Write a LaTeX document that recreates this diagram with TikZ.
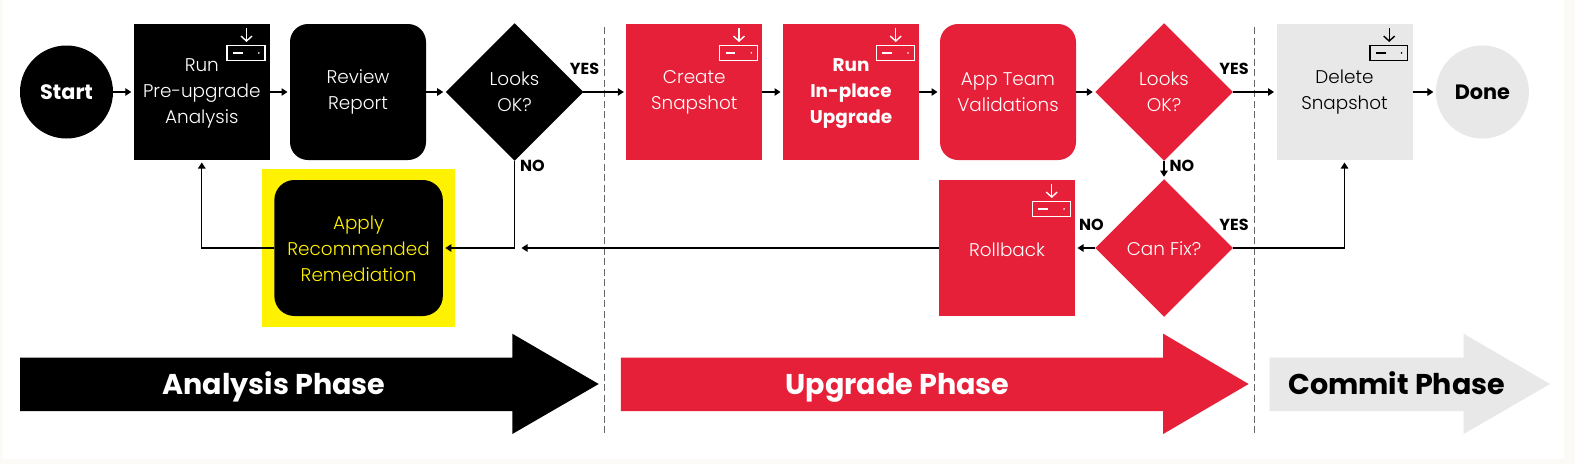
\documentclass[tikz,border=0pt]{standalone}
\usepackage{fontspec}
\setmainfont{Poppins}[UprightFont=* Light,BoldFont=* Bold]
\usetikzlibrary{shapes.geometric,arrows.meta}

\definecolor{flowred}{HTML}{E52038}
\definecolor{flowgrey}{HTML}{E8E8E8}
\definecolor{pagetint}{HTML}{FBFAF6}

\tikzset{
	x=1pt,y=-1pt,
	>={Triangle[length=6pt,width=7.5pt]},
	every node/.style={inner sep=0pt,outer sep=0pt,align=center,font=\fontsize{18.4}{26}\selectfont},
	box/.style={rectangle,minimum width=136pt,minimum height=136pt},
	softbox/.style={box,rounded corners=18pt},
	round/.style={circle,minimum size=93pt,font=\fontsize{20.8}{26}\selectfont\bfseries},
	choice/.style={diamond,minimum width=137.5pt,minimum height=137.5pt},
	answer/.style={font=\fontsize{16}{18}\selectfont\bfseries},
	phase/.style={anchor=base,font=\fontsize{28.6}{32}\selectfont\bfseries},
	flow/.style={line width=1.1pt,->,shorten >=2.5pt},
	divider/.style={line width=0.9pt,black!60,dash pattern=on 7pt off 3.5pt},
	dlicon/.pic={
		\draw[line width=1.4pt] (-42.7,21.6) rectangle (-4.8,36.2);
		\draw[line width=1.4pt] (-36.6,28.9) -- (-27,28.9);
		\fill (-11,28.9) circle (0.9pt);
		\draw[line width=1.4pt,-{Straight Barb[length=5pt,width=11pt]}] (-23.3,3.7) -- (-23.3,18);
	}
}

\begin{document}
\begin{tikzpicture}

\useasboundingbox (0,0) rectangle (1575,464);
\fill[pagetint] (0,0) rectangle (1575,464);
\fill[white] (3,0) rectangle (1564,459);

% Analysis
\node[round,fill=black,text=white] (start) at (66.5,92) {Start};
\node[box,fill=black,text=white,text height=68pt] (preupgrade) at (201.8,92) {Run\\Pre-upgrade\\Analysis};
\node[softbox,fill=black,text=white] (review) at (358,92) {Review\\Report};
\node[choice,fill=black,text=white] (looksa) at (514.5,92) {Looks\\OK?};
\node[rectangle,fill=yellow,minimum width=193.5pt,minimum height=158pt] (applyglow) at (358.6,248) {};
\node[box,rounded corners=20pt,minimum width=168.5pt,fill=black,text=yellow,text height=68pt] (apply) at (358.6,248) {Apply\\Recommended\\Remediation};

% Upgrade
\node[box,fill=flowred,text=white] (create) at (694.3,92) {Create\\Snapshot};
\node[box,fill=flowred,text=white,text height=68pt] (inplace) at (851,92) {\textbf{Run}\\\textbf{In-place}\\\textbf{Upgrade}};
\node[softbox,fill=flowred,text=white] (appteam) at (1008,92) {App Team\\Validations};
\node[choice,fill=flowred,text=white] (looksb) at (1164,92) {Looks\\OK?};
\node[choice,fill=flowred,text=white,text height=16pt] (canfix) at (1164,248) {Can Fix?};
\node[box,fill=flowred,text=white,text height=17pt] (rollback) at (1007,248) {Rollback};

% Commit
\node[box,fill=flowgrey] (delsnap) at (1344.5,92) {Delete\\Snapshot};
\node[round,fill=flowgrey] (done) at (1482.4,92) {Done};

% disk icons
\pic[white] at (preupgrade.north east) {dlicon};
\pic[white] at (create.north east) {dlicon};
\pic[white] at (inplace.north east) {dlicon};
\pic[white] at (rollback.north east) {dlicon};
\pic[black] at (delsnap.north east) {dlicon};

% phase borders
\draw[divider] (604.7,27) -- (604.7,434);
\draw[divider] (1254,27) -- (1254,434);

% connectors
\coordinate (rollbackend) at (519,248);
\draw[flow] (start) -- (preupgrade);
\draw[flow] (preupgrade) -- (review);
\draw[flow] (review) -- (looksa);
\draw[flow] (looksa) -- (create);
\draw[flow] (create) -- (inplace);
\draw[flow] (inplace) -- (appteam);
\draw[flow] (appteam) -- (looksb);
\draw[flow] (looksb) -- (delsnap);
\draw[flow] (delsnap) -- (done);
\draw[flow] (looksb) -- (canfix);
\draw[flow] (canfix) -- (rollback);
\draw[flow] (rollback) -- (rollbackend);
\draw[flow] (looksa.south) |- (apply.east);
\draw[flow] (apply.west) -| (preupgrade.south);
\draw[flow] (canfix.east) -| (delsnap.south);

% answers
\node[answer] (yesa) at (584.6,69) {YES};
\node[answer] (noa) at (532.5,166) {NO};
\node[answer] (yesb) at (1234,69) {YES};
\node[answer] (nob) at (1182,166) {NO};
\node[answer] (yesc) at (1234,225) {YES};
\node[answer] (noc) at (1091.5,225) {NO};

% phase arrows
\fill[black] (20,357.5) -- (512.3,357.5) -- (512.3,333.7) -- (598.7,384) -- (512.3,434) -- (512.3,411) -- (20,411) -- cycle;
\fill[flowred] (620.8,357.5) -- (1163.2,357.5) -- (1163.2,333.7) -- (1248.6,384) -- (1163.2,434) -- (1163.2,411) -- (620.8,411) -- cycle;
\fill[flowgrey] (1269.5,357.5) -- (1463.6,357.5) -- (1463.6,333.7) -- (1550,384) -- (1463.6,434) -- (1463.6,411) -- (1269.5,411) -- cycle;
\node[phase,text=white] (analysis) at (274,394) {Analysis Phase};
\node[phase,text=white] (upgrade) at (897.5,394) {Upgrade Phase};
\node[phase] (commit) at (1396.8,394) {Commit Phase};

\end{tikzpicture}
\end{document}
